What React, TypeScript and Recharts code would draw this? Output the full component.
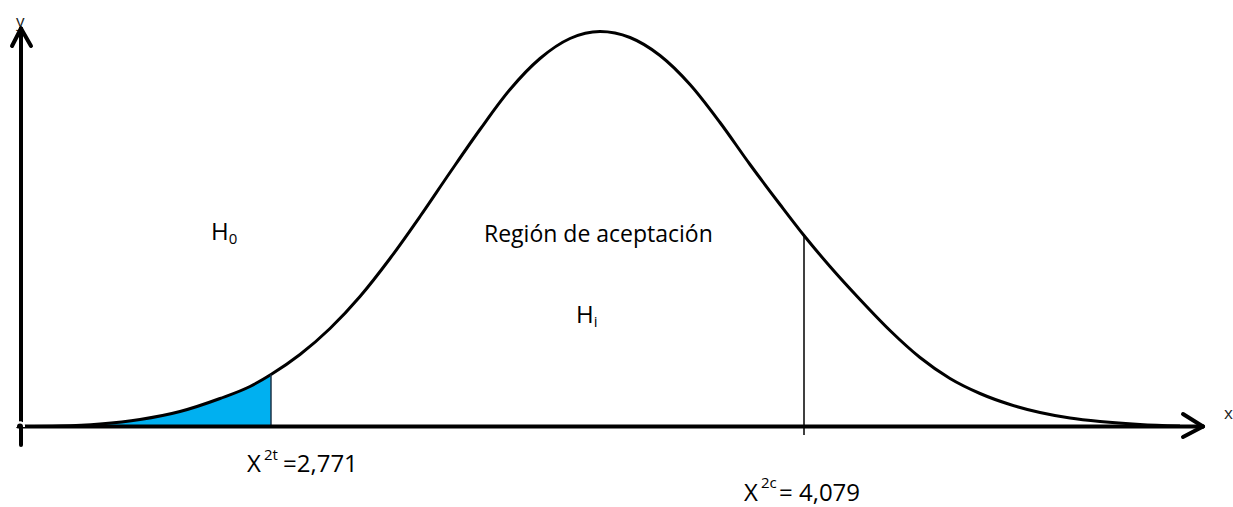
import {
	Area,
	ComposedChart,
	Line,
	ReferenceLine,
	XAxis,
	YAxis,
} from "recharts";

// positions along the horizontal axis and curve heights above the baseline
const curveX = [
	20, 60, 100, 140, 180, 220, 250, 271, 300, 330, 360, 390, 420, 450, 480, 510,
	540, 570, 600, 630, 660, 690, 720, 750, 780, 804, 830, 860, 890, 920, 950,
	980, 1010, 1040, 1070, 1100, 1140, 1180,
];
const curveY = [
	0, 0.5, 2.5, 7, 15, 28, 40, 52, 72, 98, 130, 168, 210, 254, 297, 337, 368,
	388, 395, 389, 371, 342, 304, 262, 222, 191, 160, 127, 96, 69, 48, 33, 22, 14,
	8.5, 5, 2, 0.5,
];

const CRITICAL_T = 271; // X²t = 2,771
const CRITICAL_C = 804; // X²c = 4,079

const curveData = curveX.map((x, i) => ({ x, y: curveY[i] }));
const tailData = curveData.filter((d) => d.x <= CRITICAL_T);
const tailTop = curveY[curveX.indexOf(CRITICAL_T)];
const critTop = curveY[curveX.indexOf(CRITICAL_C)];

const FONT = "'Open Sans', sans-serif";
const AXIS = { stroke: "#000", strokeWidth: 4, strokeLinecap: "round" as const };

export default function App() {
	return (
		<div style={{ position: "absolute", left: 0, top: 0, background: "#fff" }}>
			<ComposedChart
				width={1233}
				height={507}
				data={curveData}
				margin={{ top: 0, right: 0, bottom: 80, left: 0 }}
			>
				<XAxis type="number" dataKey="x" domain={[0, 1233]} hide />
				<YAxis type="number" domain={[-0.5, 426.5]} hide allowDataOverflow />
				<Area
					data={tailData}
					dataKey="y"
					type="monotone"
					fill="#00B0F0"
					fillOpacity={1}
					stroke="none"
					isAnimationActive={false}
				/>
				<Line
					dataKey="y"
					type="monotone"
					stroke="#000"
					strokeWidth={3}
					dot={false}
					isAnimationActive={false}
				/>
				<ReferenceLine
					segment={[
						{ x: CRITICAL_T, y: 0 },
						{ x: CRITICAL_T, y: tailTop },
					]}
					stroke="#1f3347"
					strokeWidth={1.5}
					ifOverflow="visible"
				/>
				<ReferenceLine
					segment={[
						{ x: CRITICAL_C, y: -8.5 },
						{ x: CRITICAL_C, y: critTop },
					]}
					stroke="#000"
					strokeWidth={1.5}
					ifOverflow="visible"
				/>
				{/* y axis with arrow */}
				<ReferenceLine
					segment={[
						{ x: 21, y: -18.5 },
						{ x: 21, y: 398 },
					]}
					{...AXIS}
					ifOverflow="visible"
				/>
				<ReferenceLine
					segment={[
						{ x: 12, y: 380.5 },
						{ x: 21, y: 398 },
					]}
					{...AXIS}
					ifOverflow="visible"
				/>
				<ReferenceLine
					segment={[
						{ x: 31, y: 380.5 },
						{ x: 21, y: 398 },
					]}
					{...AXIS}
					ifOverflow="visible"
				/>
				{/* x axis with arrow */}
				<ReferenceLine
					segment={[
						{ x: 18, y: 0 },
						{ x: 1203, y: 0 },
					]}
					{...AXIS}
					ifOverflow="visible"
				/>
				<ReferenceLine
					segment={[
						{ x: 1183, y: 12.5 },
						{ x: 1203, y: 0 },
					]}
					{...AXIS}
					ifOverflow="visible"
				/>
				<ReferenceLine
					segment={[
						{ x: 1183, y: -10.5 },
						{ x: 1203, y: 0 },
					]}
					{...AXIS}
					ifOverflow="visible"
				/>
				<text x={16} y={27} fontFamily={FONT} fontSize={17} fill="#222">
					y
				</text>
				<text x={1224} y={419} fontFamily={FONT} fontSize={17} fill="#222">
					x
				</text>
				<text x={211} y={240} fontFamily={FONT} fontSize={24} fill="#000">
					H
					<tspan fontSize={15} dy={4}>
						0
					</tspan>
				</text>
				<text x={484} y={242} fontFamily={FONT} fontSize={23} fill="#000">
					Región de aceptación
				</text>
				<text x={576} y={323} fontFamily={FONT} fontSize={24} fill="#000">
					H
					<tspan fontSize={15} dy={4}>
						i
					</tspan>
				</text>
				<text x={247} y={472} fontFamily={FONT} fontSize={24} fill="#000">
					X
					<tspan x={264} dy={-12} fontSize={15}>
						2t
					</tspan>
					<tspan x={283} dy={12}>
						=2,771
					</tspan>
				</text>
				<text x={744} y={501} fontFamily={FONT} fontSize={24} fill="#000">
					X
					<tspan x={761} dy={-13} fontSize={15}>
						2c
					</tspan>
					<tspan x={779} dy={13}>
						= 4,079
					</tspan>
				</text>
			</ComposedChart>
		</div>
	);
}
